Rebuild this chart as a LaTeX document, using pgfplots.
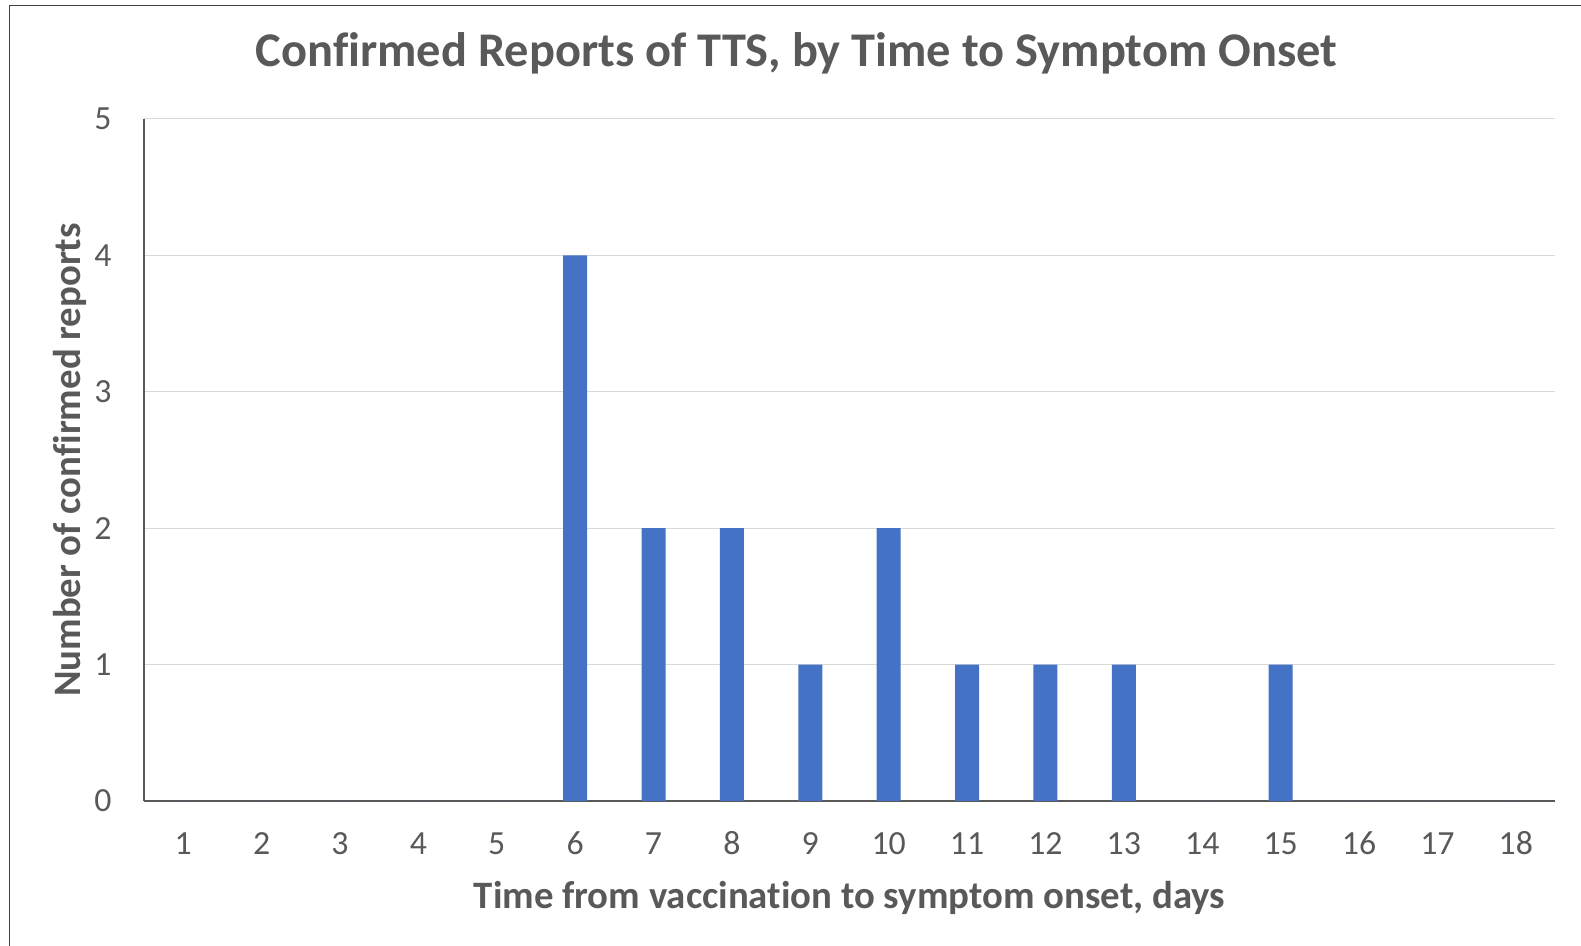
\documentclass[border=0pt]{standalone}
\usepackage{fontspec}
\setmainfont{Carlito}[Ligatures=NoCommon]
\usepackage{pgfplots}
\pgfplotsset{compat=1.18}
\definecolor{txt}{HTML}{595959}
\definecolor{barblue}{HTML}{4472C4}
\definecolor{gridc}{HTML}{D9D9D9}
\definecolor{framec}{HTML}{404040}
\begin{document}
\begin{tikzpicture}
\useasboundingbox (0,0) rectangle (790.5bp,473bp);
\draw[framec, line width=0.6bp] (4.7bp,0) -- (4.7bp,470.2bp) -- (790.5bp,470.2bp);
\begin{axis}[
  at={(72bp,72.5bp)}, anchor=south west,
  scale only axis, width=705.5bp, height=341bp,
  xmin=0.5, xmax=18.5, ymin=0, ymax=5,
  enlargelimits=false,
  axis lines*=left,
  axis line style={draw=txt, line width=0.7bp},
  xtick={1,...,18}, ytick={0,...,5},
  major tick length=0pt,
  ymajorgrids, grid style={draw=gridc, line width=0.5bp},
  /pgf/number format/assume math mode=true,
  ticklabel style={font=\fontsize{16.9bp}{20bp}\selectfont, text=txt, inner sep=0pt},
  xticklabel style={anchor=base, yshift=-27bp},
  yticklabel style={anchor=east, xshift=-16bp},
  ybar, bar width=12bp,
]
\addplot[fill=barblue, draw=none] coordinates {
 (1,0) (2,0) (3,0) (4,0) (5,0) (6,4) (7,2) (8,2) (9,1)
 (10,2) (11,1) (12,1) (13,1) (14,0) (15,1) (16,0) (17,0) (18,0)
};
\end{axis}
\node[anchor=base, text=txt, inner sep=0pt, font=\fontsize{24.2bp}{29bp}\selectfont\bfseries] at (398.25bp,439.5bp) {Confirmed Reports of TTS, by Time to Symptom Onset};
\node[anchor=base, text=txt, inner sep=0pt, font=\fontsize{19.4bp}{24bp}\selectfont\bfseries] at (424.75bp,19bp) {Time from vaccination to symptom onset, days};
\node[anchor=base, rotate=90, text=txt, inner sep=0pt, font=\fontsize{19.4bp}{24bp}\selectfont\bfseries] at (40bp,243bp) {Number of confirmed reports};
\end{tikzpicture}
\end{document}
